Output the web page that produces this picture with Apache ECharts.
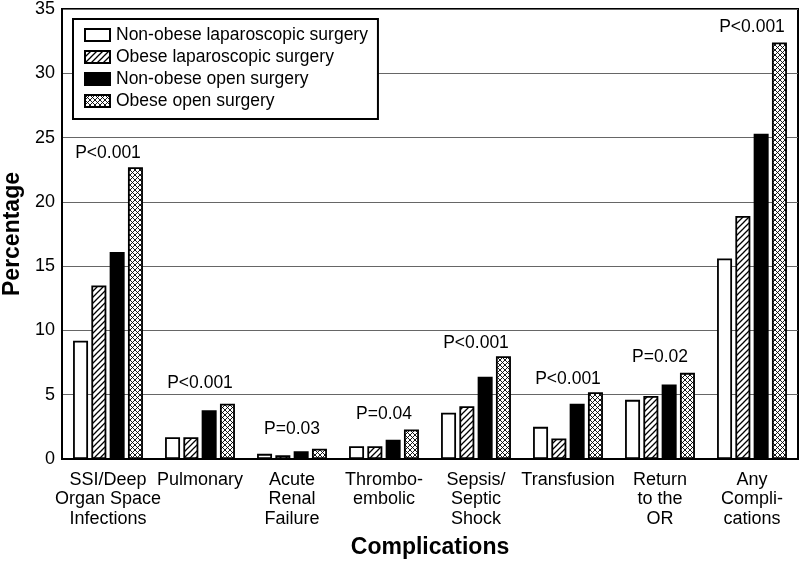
<!DOCTYPE html>
<html><head><meta charset="utf-8">
<script src="https://cdn.jsdelivr.net/npm/echarts@6/dist/echarts.min.js"></script>
<style>html,body{margin:0;padding:0;background:#fff}#c{width:800px;height:561px}</style>
</head><body><div id="c"></div>
<script>
var categories = ['SSI/Deep\nOrgan Space\nInfections','Pulmonary','Acute\nRenal\nFailure','Thrombo-\nembolic','Sepsis/\nSeptic\nShock','Transfusion','Return\nto the\nOR','Any\nCompli-\ncations'];
var seriesNames = ['Non-obese laparoscopic surgery','Obese laparoscopic surgery','Non-obese open surgery','Obese open surgery'];
var nonObeseLap = [9.2, 1.7, 0.4, 1.0, 3.6, 2.5, 4.6, 15.6];
var obeseLap    = [13.5, 1.7, 0.3, 1.0, 4.1, 1.6, 4.9, 18.9];
var nonObeseOpen= [16.1, 3.8, 0.6, 1.5, 6.4, 4.3, 5.8, 25.3];
var obeseOpen   = [22.7, 4.3, 0.8, 2.3, 8.0, 5.2, 6.7, 32.4];
var pLabels = ['P<0.001','P<0.001','P=0.03','P=0.04','P<0.001','P<0.001','P=0.02','P<0.001'];
var pLabelY = [23.8, 5.9, 2.3, 3.5, 9.0, 6.2, 7.9, 33.6];
var yTicks = [0,5,10,15,20,25,30,35];

function hatch(){
  var c=document.createElement('canvas');c.width=6;c.height=6;var g=c.getContext('2d');
  g.fillStyle='#fff';g.fillRect(0,0,6,6);g.strokeStyle='#000';g.lineWidth=1.3;
  g.beginPath();
  g.moveTo(-1,7);g.lineTo(7,-1);
  g.moveTo(-4,4);g.lineTo(4,-4);
  g.moveTo(2,10);g.lineTo(10,2);
  g.stroke();return c;
}
function cross(){
  var c=document.createElement('canvas');c.width=5;c.height=5;var g=c.getContext('2d');
  g.fillStyle='#fff';g.fillRect(0,0,5,5);g.strokeStyle='#000';g.lineWidth=0.9;
  g.beginPath();
  g.moveTo(-1,6);g.lineTo(6,-1);
  g.moveTo(-1,-1);g.lineTo(6,6);
  g.stroke();return c;
}
var fills=['#ffffff',{image:hatch(),repeat:'repeat'},'#000000',{image:cross(),repeat:'repeat'}];
var datas=[nonObeseLap,obeseLap,nonObeseOpen,obeseOpen];
var FONT='Arial, "Liberation Sans", sans-serif';
var series=datas.map(function(d,i){
  return {name:seriesNames[i],type:'bar',data:d,barWidth:15,barGap:'22%',
    itemStyle:{color:fills[i],borderColor:'#000',borderWidth:1.8},silent:true};
});
series.push({type:'scatter',symbolSize:0,silent:true,itemStyle:{opacity:1},
  data:pLabels.map(function(t,i){return [i,pLabelY[i],t];}),
  label:{show:true,position:'inside',formatter:function(p){return p.data[2];},color:'#000',fontSize:17.5,fontFamily:FONT}});
var chart=echarts.init(document.getElementById('c'),null,{renderer:'canvas'});
chart.setOption({
  animation:false,
  grid:{left:62,right:2,top:9,bottom:102,containLabel:false,outerBoundsMode:'none',show:true,borderColor:'#000',borderWidth:2,backgroundColor:'transparent'},
  legend:{show:true,orient:'vertical',left:73,top:19,data:seriesNames,icon:'rect',
    borderColor:'#000',borderWidth:2,padding:[7,10,9,11],itemWidth:25,itemHeight:12,itemGap:4,
    textStyle:{fontSize:17.5,fontFamily:FONT,color:'#000',padding:[0,0,0,1]},backgroundColor:'#fff',selectedMode:false},
  xAxis:{type:'category',data:categories,
    axisLine:{lineStyle:{color:'#000',width:2}},axisTick:{show:false},
    axisLabel:{fontSize:18,fontFamily:FONT,color:'#000',lineHeight:19.5,margin:11,interval:0},
    name:'Complications',nameLocation:'middle',nameGap:77,
    nameTextStyle:{fontSize:23,fontWeight:'bold',fontFamily:FONT,color:'#000'}},
  yAxis:{type:'value',min:yTicks[0],max:yTicks[yTicks.length-1],interval:5,
    axisLine:{show:true,lineStyle:{color:'#000',width:2}},axisTick:{show:false},
    axisLabel:{fontSize:18,fontFamily:FONT,color:'#000',margin:7},
    splitLine:{lineStyle:{color:'#666',width:1}},
    name:'Percentage',nameLocation:'middle',nameGap:36,
    nameTextStyle:{fontSize:23,fontWeight:'bold',fontFamily:FONT,color:'#000'}},
  series:series
});
</script></body></html>
